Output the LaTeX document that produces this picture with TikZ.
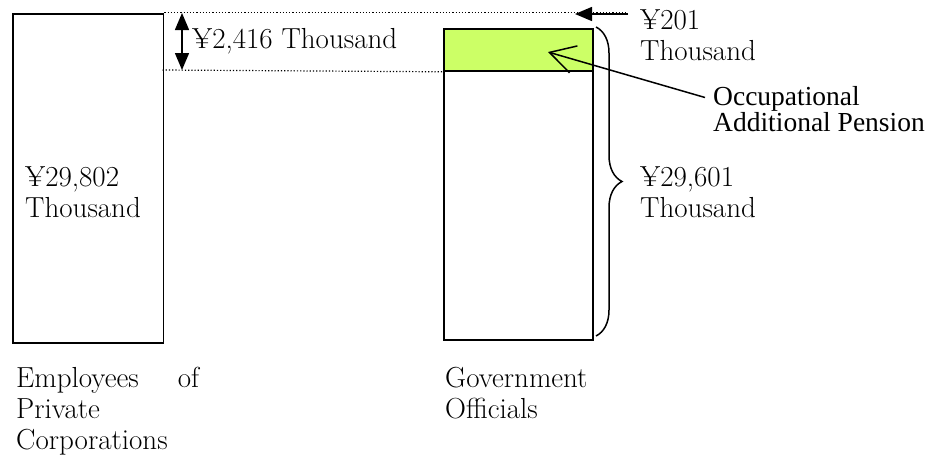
\documentclass[tikz,border=0pt]{standalone}
\usepackage{fontspec}
\newfontfamily\timesfont{Liberation Serif}
\usetikzlibrary{arrows.meta,decorations.pathreplacing}
\definecolor{pgreen}{RGB}{204,255,102}
\begin{document}
\begin{tikzpicture}[x=1pt,y=-1pt,
  bar/.style={draw, line width=1.8pt, inner sep=0pt, anchor=north west},
  lbl/.style={font=\fontsize{29}{31}\selectfont, inner sep=0pt, anchor=base west, align=left},
  tlbl/.style={font=\timesfont\fontsize{27.5}{26}\selectfont, inner sep=0pt, anchor=base west, align=left},
  guide/.style={line width=1.2pt, dash pattern=on 1.2pt off 2pt},
  tarrow/.style={line width=1.5pt, -{Triangle[length=17pt,width=14pt]}},
  dtarrow/.style={line width=1.5pt, {Triangle[length=17pt,width=14pt]}-{Triangle[length=17pt,width=14pt]}},
  barb/.style={line width=1.5pt, -{Straight Barb[length=25pt,width=28pt]}},
  bracestyle/.style={line width=1.5pt, decorate, decoration={brace, amplitude=26pt}}]
\useasboundingbox (0,0) rectangle (933,456);
% bars
\node[bar, minimum width=150.5pt, minimum height=329.3pt] (lbar) at (12,12.7) {};
\node[bar, fill=pgreen, minimum width=149pt, minimum height=42pt] (green) at (443,28) {};
\node[bar, minimum width=149pt, minimum height=311pt] (rbar) at (443,28) {};
% guide lines
\coordinate (g1end) at (628,12.7);
\coordinate (g2start) at (162.5,70);
\draw[guide] (lbar.north east) -- (g1end);
\draw[guide] (g2start) -- (green.south west);
% double arrow
\coordinate (da1) at (182,13);
\coordinate (da2) at (182,70);
\draw[dtarrow] (da1) -- (da2);
\node[lbl] (diff) at (192,48) {¥2,416 Thousand};
% left bar label
\node[lbl] (lval) at (25,217) {¥29,802\\Thousand};
% 201 arrow
\coordinate (a201from) at (628,14);
\coordinate (a201to) at (575,14);
\draw[tarrow] (a201from) -- (a201to);
\node[lbl] (v201) at (640,60) {¥201\\Thousand};
% occupational
\coordinate (occfrom) at (705,97.5);
\coordinate (occtip) at (548,52);
\draw[barb] (occfrom) -- (occtip);
\node[tlbl] (occ) at (713,131.7) {Occupational\\Additional Pension};
% brace
\coordinate (br1) at (596,27);
\coordinate (br2) at (596,336);
\draw[bracestyle] (br1) -- (br2);
\node[lbl] (rval) at (640,217) {¥29,601\\Thousand};
% bottom labels
\node[lbl] (lname) at (16,449) {\makebox[183pt][s]{Employees of}\\Private\\Corporations};
\node[lbl] (rname) at (445,418) {Government\\Officials};
\end{tikzpicture}
\end{document}
